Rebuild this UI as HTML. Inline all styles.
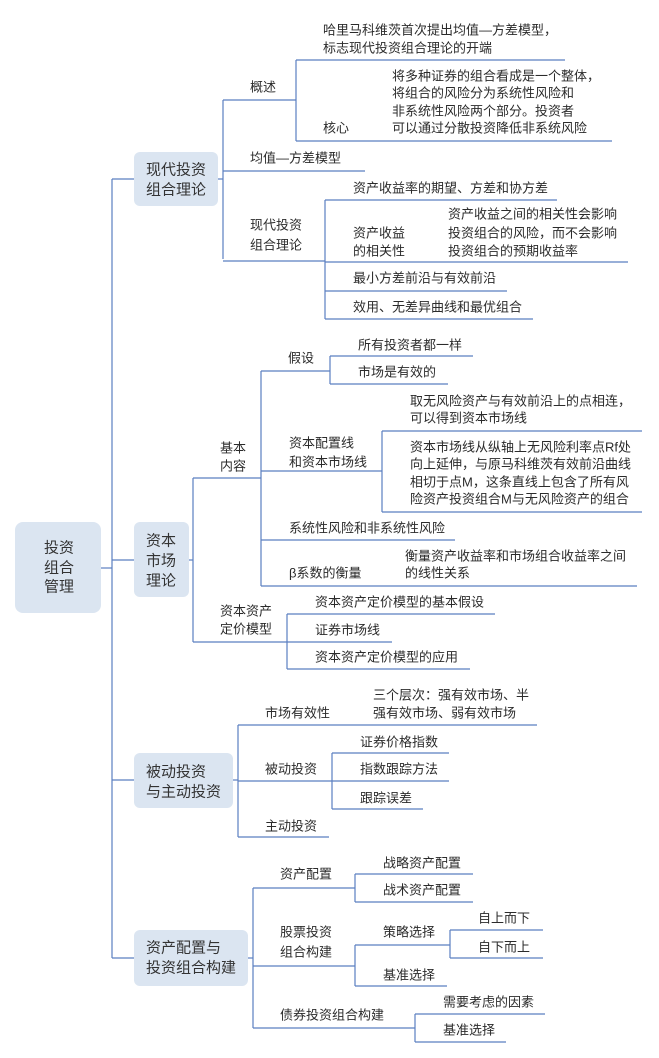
<!DOCTYPE html>
<html><head><meta charset="utf-8"><style>
html,body{margin:0;padding:0;background:#fff;}
svg{display:block;}
text{font-family:"Liberation Sans","Noto Sans CJK SC",sans-serif;font-size:13px;fill:#2b2b2b;dominant-baseline:central;}
.b{font-size:15px;fill:#333;}
line{stroke:#5b7fc0;stroke-width:1.2;}
rect{fill:#dbe5f1;}
</style></head><body>
<svg width="659" height="1058" viewBox="0 0 659 1058" xmlns="http://www.w3.org/2000/svg">
<!-- root -->
<rect x="15" y="522" width="86" height="91" rx="8"/>
<text class="b" x="59" y="548" text-anchor="middle">投资</text>
<text class="b" x="59" y="568" text-anchor="middle">组合</text>
<text class="b" x="59" y="587" text-anchor="middle">管理</text>
<line x1="101" y1="568" x2="112" y2="568"/>
<line x1="112" y1="179" x2="112" y2="958"/>

<!-- section 1 -->
<line x1="112" y1="179" x2="134" y2="179"/>
<rect x="134" y="152" width="84" height="54" rx="6"/>
<text class="b" x="146" y="170">现代投资</text>
<text class="b" x="146" y="190">组合理论</text>
<line x1="218" y1="179" x2="223" y2="179"/>
<line x1="223" y1="100" x2="223" y2="259"/>
<text x="250" y="87">概述</text>
<line x1="223" y1="100" x2="296" y2="100"/>
<line x1="296" y1="60" x2="296" y2="141"/>
<text x="323" y="30">哈里马科维茨首次提出均值—方差模型，</text>
<text x="323" y="48">标志现代投资组合理论的开端</text>
<line x1="296" y1="60" x2="565" y2="60"/>
<text x="323" y="128">核心</text>
<text x="392" y="76">将多种证券的组合看成是一个整体，</text>
<text x="392" y="93">将组合的风险分为系统性风险和</text>
<text x="392" y="111">非系统性风险两个部分。投资者</text>
<text x="392" y="128">可以通过分散投资降低非系统风险</text>
<line x1="296" y1="141" x2="612" y2="141"/>
<text x="250" y="158">均值—方差模型</text>
<line x1="223" y1="171" x2="365" y2="171"/>
<text x="250" y="225">现代投资</text>
<text x="250" y="245">组合理论</text>
<line x1="223" y1="261" x2="325" y2="261"/>
<line x1="325" y1="200" x2="325" y2="319"/>
<text x="353" y="188">资产收益率的期望、方差和协方差</text>
<line x1="325" y1="200" x2="557" y2="200"/>
<text x="353" y="233">资产收益</text>
<text x="353" y="251">的相关性</text>
<text x="448" y="214">资产收益之间的相关性会影响</text>
<text x="448" y="233">投资组合的风险，而不会影响</text>
<text x="448" y="251">投资组合的预期收益率</text>
<line x1="325" y1="262" x2="628" y2="262"/>
<text x="353" y="278">最小方差前沿与有效前沿</text>
<line x1="325" y1="291" x2="507" y2="291"/>
<text x="353" y="307">效用、无差异曲线和最优组合</text>
<line x1="325" y1="319" x2="533" y2="319"/>

<!-- section 2 -->
<line x1="112" y1="560" x2="134" y2="560"/>
<rect x="134" y="522" width="55" height="75" rx="6"/>
<text class="b" x="161" y="541" text-anchor="middle">资本</text>
<text class="b" x="161" y="561" text-anchor="middle">市场</text>
<text class="b" x="161" y="581" text-anchor="middle">理论</text>
<line x1="189" y1="560" x2="193" y2="560"/>
<line x1="193" y1="478" x2="193" y2="642"/>
<text x="220" y="448">基本</text>
<text x="220" y="466">内容</text>
<line x1="193" y1="478" x2="261" y2="478"/>
<line x1="261" y1="371" x2="261" y2="586"/>
<text x="288" y="358">假设</text>
<line x1="261" y1="371" x2="330" y2="371"/>
<line x1="330" y1="356" x2="330" y2="384"/>
<text x="358" y="345">所有投资者都一样</text>
<line x1="330" y1="356" x2="473" y2="356"/>
<text x="358" y="372">市场是有效的</text>
<line x1="330" y1="384" x2="448" y2="384"/>
<text x="289" y="443">资本配置线</text>
<text x="289" y="462">和资本市场线</text>
<line x1="261" y1="471" x2="382" y2="471"/>
<line x1="382" y1="431" x2="382" y2="512"/>
<text x="410" y="401">取无风险资产与有效前沿上的点相连，</text>
<text x="410" y="418">可以得到资本市场线</text>
<line x1="382" y1="431" x2="642" y2="431"/>
<text x="410" y="447">资本市场线从纵轴上无风险利率点Rf处</text>
<text x="410" y="464">向上延伸，与原马科维茨有效前沿曲线</text>
<text x="410" y="482">相切于点M，这条直线上包含了所有风</text>
<text x="410" y="499">险资产投资组合M与无风险资产的组合</text>
<line x1="382" y1="512" x2="642" y2="512"/>
<text x="289" y="528">系统性风险和非系统性风险</text>
<line x1="261" y1="540" x2="455" y2="540"/>
<text x="289" y="573">β系数的衡量</text>
<text x="405" y="556">衡量资产收益率和市场组合收益率之间</text>
<text x="405" y="573">的线性关系</text>
<line x1="261" y1="586" x2="637" y2="586"/>
<text x="220" y="611">资本资产</text>
<text x="220" y="629">定价模型</text>
<line x1="193" y1="642" x2="287" y2="642"/>
<line x1="287" y1="614" x2="287" y2="669"/>
<text x="315" y="602">资本资产定价模型的基本假设</text>
<line x1="287" y1="614" x2="495" y2="614"/>
<text x="315" y="630">证券市场线</text>
<line x1="287" y1="642" x2="392" y2="642"/>
<text x="315" y="657">资本资产定价模型的应用</text>
<line x1="287" y1="669" x2="470" y2="669"/>

<!-- section 3 -->
<line x1="112" y1="780" x2="134" y2="780"/>
<rect x="134" y="753" width="99" height="55" rx="6"/>
<text class="b" x="146" y="772">被动投资</text>
<text class="b" x="146" y="792">与主动投资</text>
<line x1="233" y1="780" x2="238" y2="780"/>
<line x1="238" y1="725" x2="238" y2="837"/>
<text x="265" y="713">市场有效性</text>
<text x="373" y="695">三个层次：强有效市场、半</text>
<text x="373" y="713">强有效市场、弱有效市场</text>
<line x1="238" y1="725" x2="537" y2="725"/>
<text x="265" y="769">被动投资</text>
<line x1="238" y1="781" x2="332" y2="781"/>
<line x1="332" y1="753" x2="332" y2="809"/>
<text x="360" y="742">证券价格指数</text>
<line x1="332" y1="753" x2="449" y2="753"/>
<text x="360" y="769">指数跟踪方法</text>
<line x1="332" y1="781" x2="449" y2="781"/>
<text x="360" y="798">跟踪误差</text>
<line x1="332" y1="809" x2="423" y2="809"/>
<text x="265" y="826">主动投资</text>
<line x1="238" y1="837" x2="329" y2="837"/>

<!-- section 4 -->
<line x1="112" y1="958" x2="134" y2="958"/>
<rect x="134" y="930" width="114" height="56" rx="6"/>
<text class="b" x="146" y="948">资产配置与</text>
<text class="b" x="146" y="968">投资组合构建</text>
<line x1="248" y1="958" x2="253" y2="958"/>
<line x1="253" y1="888" x2="253" y2="1028"/>
<text x="280" y="874">资产配置</text>
<line x1="253" y1="888" x2="355" y2="888"/>
<line x1="355" y1="874" x2="355" y2="902"/>
<text x="383" y="863">战略资产配置</text>
<line x1="355" y1="874" x2="473" y2="874"/>
<text x="383" y="890">战术资产配置</text>
<line x1="355" y1="902" x2="473" y2="902"/>
<text x="280" y="932">股票投资</text>
<text x="280" y="952">组合构建</text>
<line x1="253" y1="966" x2="355" y2="966"/>
<line x1="355" y1="945" x2="355" y2="986"/>
<text x="383" y="932">策略选择</text>
<line x1="355" y1="945" x2="450" y2="945"/>
<line x1="450" y1="930" x2="450" y2="958"/>
<text x="478" y="918">自上而下</text>
<line x1="450" y1="930" x2="543" y2="930"/>
<text x="478" y="947">自下而上</text>
<line x1="450" y1="958" x2="543" y2="958"/>
<text x="383" y="975">基准选择</text>
<line x1="355" y1="986" x2="447" y2="986"/>
<text x="280" y="1015">债券投资组合构建</text>
<line x1="253" y1="1028" x2="415" y2="1028"/>
<line x1="415" y1="1014" x2="415" y2="1042"/>
<text x="443" y="1002">需要考虑的因素</text>
<line x1="415" y1="1014" x2="545" y2="1014"/>
<text x="443" y="1030">基准选择</text>
<line x1="415" y1="1042" x2="506" y2="1042"/>
</svg>
</body></html>
